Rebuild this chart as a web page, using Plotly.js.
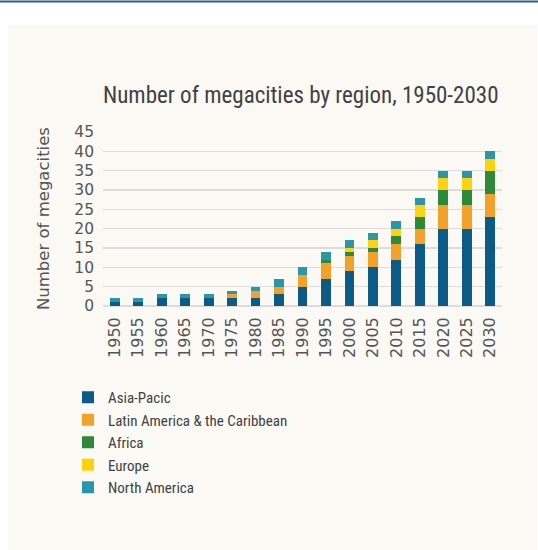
<!DOCTYPE html>
<html>
<head>
<meta charset="utf-8">
<script src="https://cdn.plot.ly/plotly-3.0.1.min.js"></script>
<style>
html,body{margin:0;padding:0;background:#fff;}
#chart{width:538px;height:550px;}
#chart .gtitle, #chart .legendtext{font-stretch:condensed !important;}
</style>
</head>
<body>
<div id="chart"></div>
<script>
var years = ["1950","1955","1960","1965","1970","1975","1980","1985","1990","1995","2000","2005","2010","2015","2020","2025","2030"];
var asiaPacific = [1,1,2,2,2,2,2,3,5,7,9,10,12,16,20,20,23];
var latinAmerica = [0,0,0,0,0,1,2,2,3,4,4,4,4,4,6,6,6];
var africa = [0,0,0,0,0,0,0,0,0,1,1,1,2,3,4,4,6];
var europe = [0,0,0,0,0,0,0,0,0,0,1,2,2,3,3,3,3];
var northAmerica = [1,1,1,1,1,1,1,2,2,2,2,2,2,2,2,2,2];
var seriesNames = ["Asia-Pacic","Latin America & the Caribbean","Africa","Europe","North America"];
var yTicks = [0,5,10,15,20,25,30,35,40,45];

var colors = ["#0b5b86","#f2a12a","#2c8a3a","#fdd20f","#2b96a8"];
var series = [asiaPacific, latinAmerica, africa, europe, northAmerica];

var W = 538, H = 550;
var m = {l:103, r:36, t:132, b:244, autoexpand:false};
var pw = W - m.l - m.r, ph = H - m.t - m.b;
function px2x(px){ return (px - m.l)/pw; }
function py2y(py){ return (H - m.b - py)/ph; }

var traces = series.map(function(s,i){
  return {type:'bar', x:years, y:s, name:seriesNames[i], marker:{color:colors[i], line:{width:0}}};
});

var condensed = "'Roboto Condensed', 'Liberation Sans Narrow', 'DejaVu Sans Condensed', 'DejaVu Sans', sans-serif";
var sans = "'DejaVu Sans', Arial, sans-serif";

var layout = {
  width:W, height:H,
  margin:m,
  paper_bgcolor:'#ffffff',
  plot_bgcolor:'rgba(0,0,0,0)',
  barmode:'stack',
  bargap:0.58,
  showlegend:true,
  title:{text:'Number of megacities by region, 1950-2030', font:{family:condensed, size:23, color:'#3f4144'},
    xref:'paper', x:0, xanchor:'left', yref:'container', y:1-95/550, yanchor:'middle'},
  xaxis:{type:'category', tickangle:-90, tickfont:{family:sans, size:16, color:'#555'},
    showgrid:false, showline:false, ticks:'', ticklabelstandoff:7, fixedrange:true},
  yaxis:{range:[0,45], tickvals:yTicks, tickfont:{family:sans, size:15.5, color:'#555'},
    showgrid:true, gridcolor:'#dcdcdc', gridwidth:1.5, zeroline:true, zerolinecolor:'#dcdcdc', zerolinewidth:1.5,
    showline:false, ticks:'', ticklabelstandoff:8},
  annotations:[
    {text:'Number of megacities', xref:'paper', yref:'paper', x:px2x(43), y:0.5, xanchor:'center', yanchor:'middle',
     textangle:-90, showarrow:false, font:{family:sans, size:16.5, color:'#555'}}
  ],
  legend:{xref:'container', yref:'container', x:68/538, y:1-381/550, xanchor:'left', yanchor:'top',
    traceorder:'normal', font:{family:condensed, size:15, color:'#3f4144'}, bgcolor:'rgba(0,0,0,0)'},
  shapes:[
    {type:'rect', xref:'paper', yref:'paper', x0:px2x(8), x1:px2x(537), y0:py2y(25), y1:py2y(551), fillcolor:'#fbf9f4', line:{width:0}, layer:'below'},
    {type:'line', xref:'paper', yref:'paper', x0:px2x(0), x1:px2x(538), y0:py2y(1.5), y1:py2y(1.5), line:{color:'#2b5f8c', width:2}}
  ]
};

Plotly.newPlot('chart', traces, layout, {staticPlot:true, displayModeBar:false});
</script>
</body>
</html>
